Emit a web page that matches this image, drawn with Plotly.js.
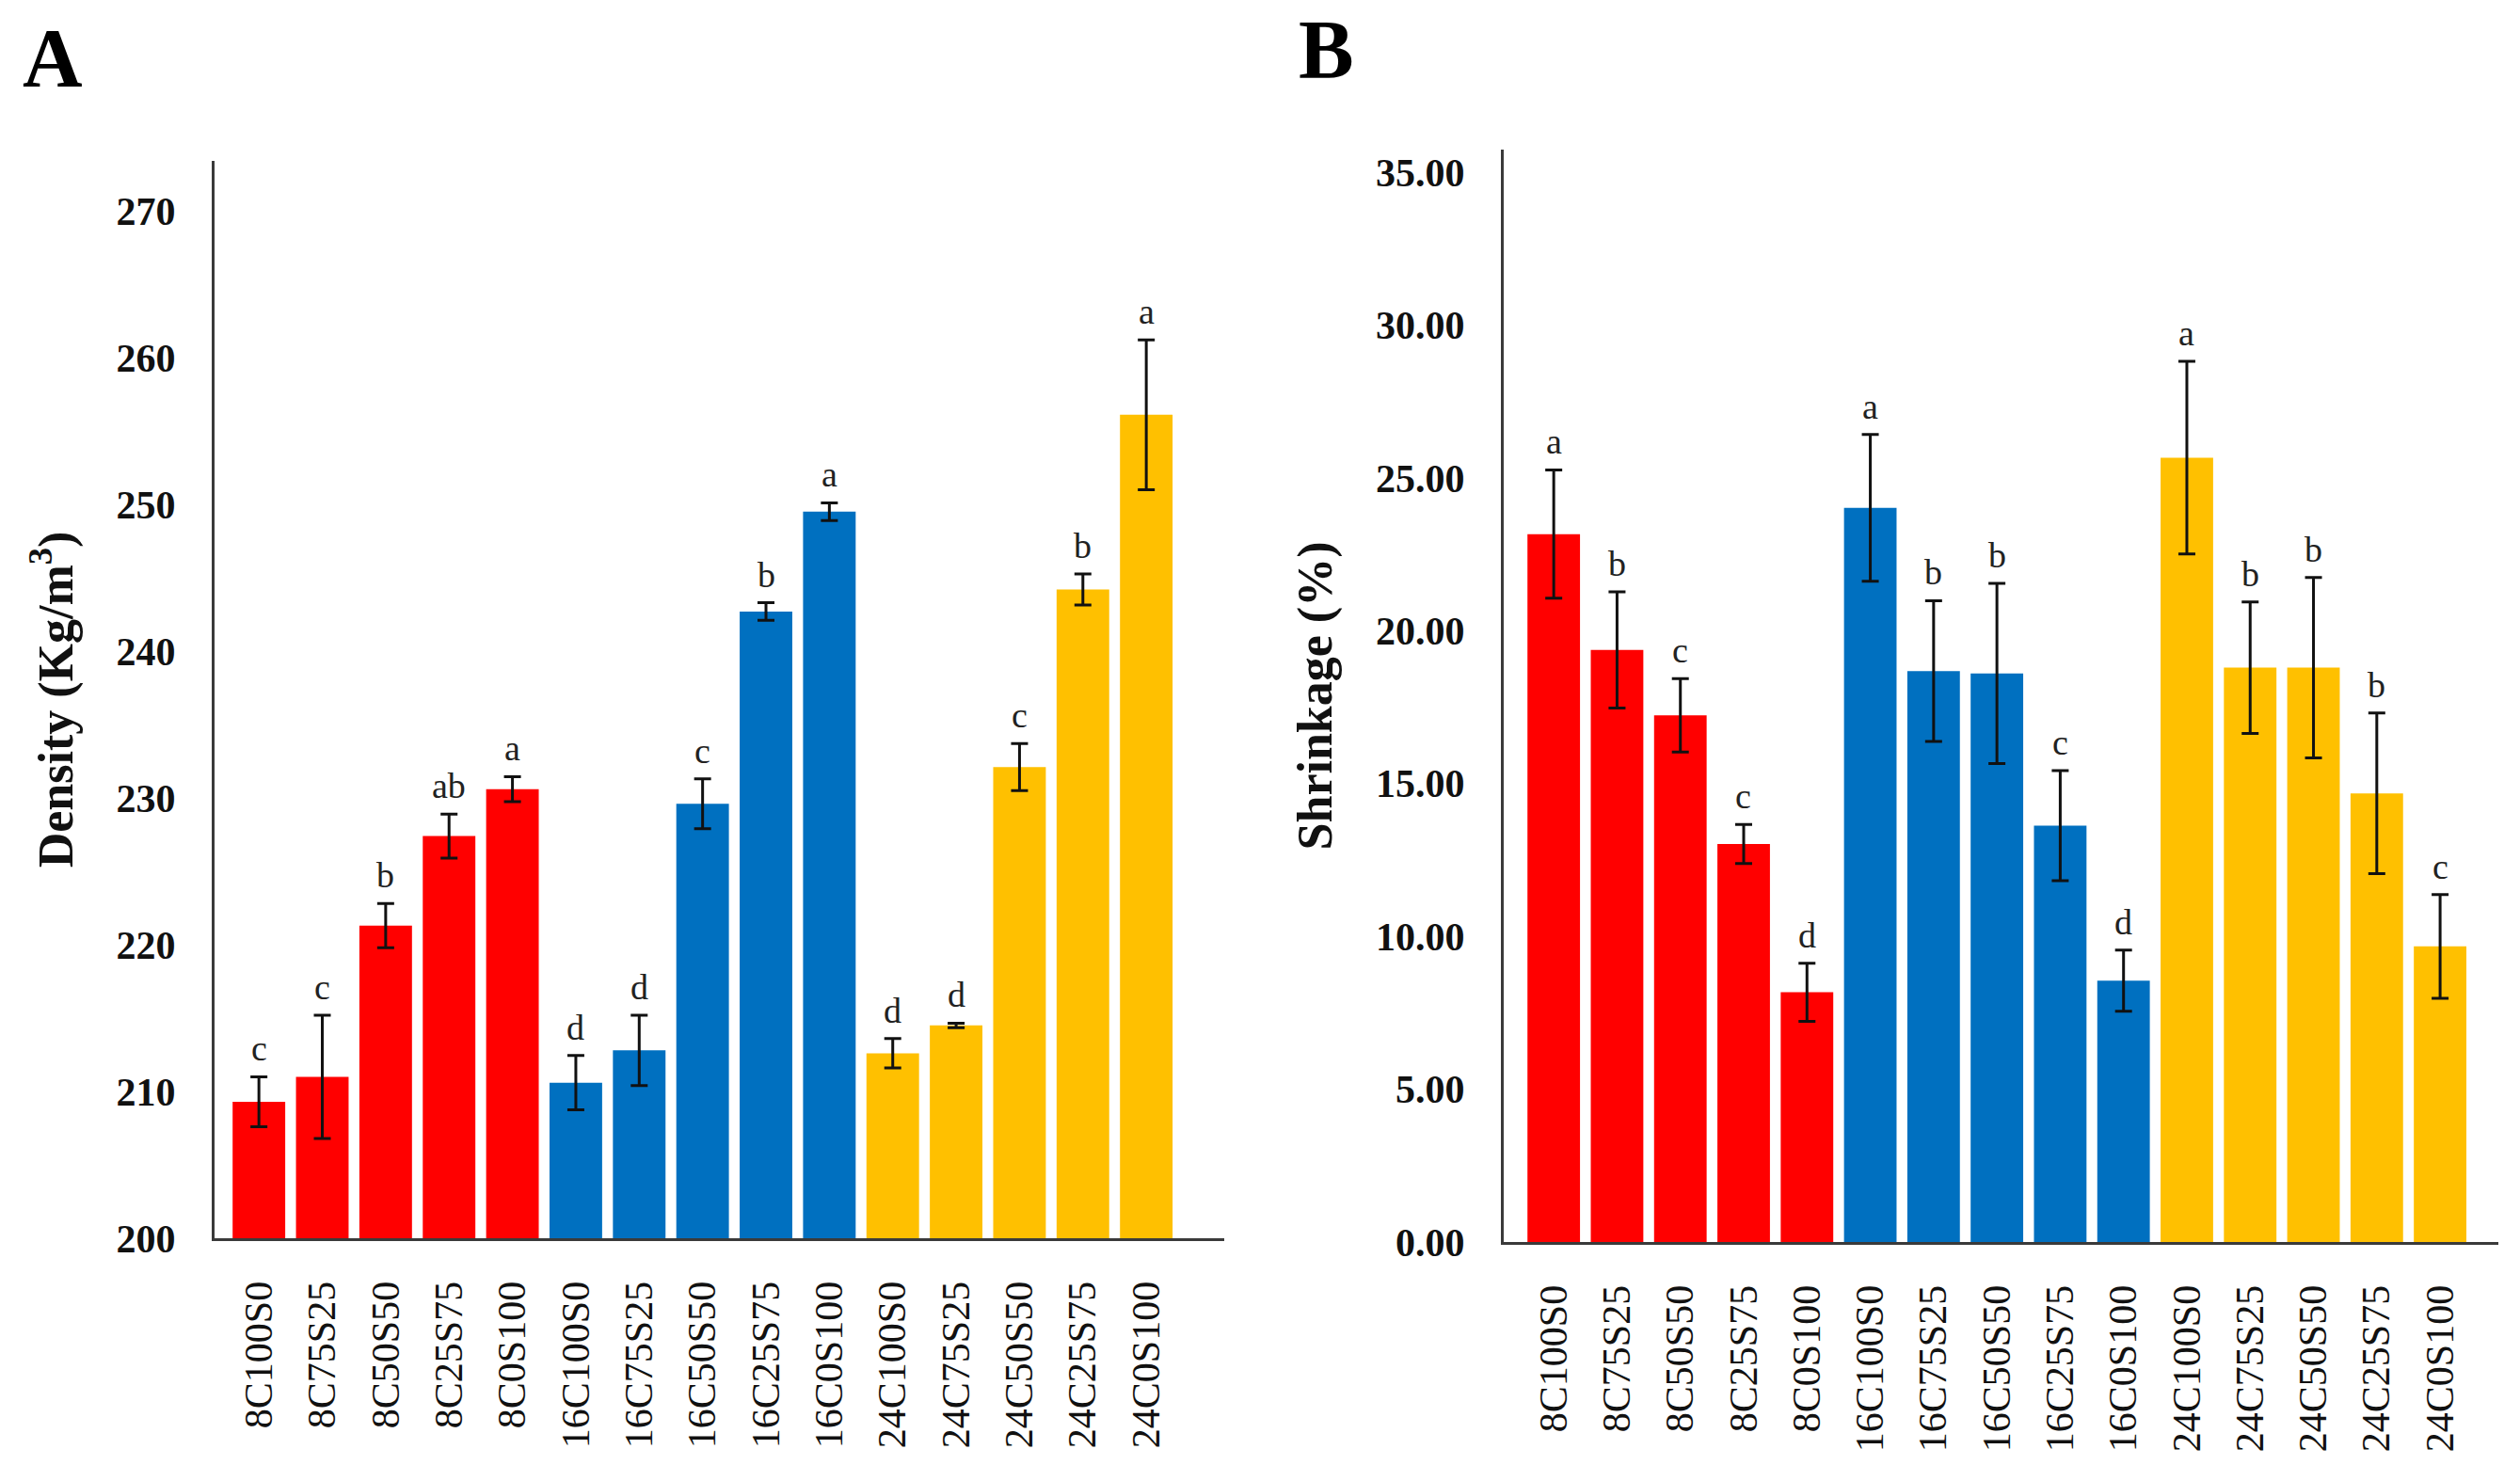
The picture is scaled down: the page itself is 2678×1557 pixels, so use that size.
<!DOCTYPE html>
<html>
<head>
<meta charset="utf-8">
<script src="https://cdn.plot.ly/plotly-3.0.1.min.js"></script>
<style>
  html, body { margin: 0; padding: 0; background: #ffffff; }
  #chart { width: 2678px; height: 1557px; }
</style>
</head>
<body>
<div id="chart"></div>
<script>
// ---------- data ----------
const categories = ['8C100S0','8C75S25','8C50S50','8C25S75','8C0S100',
                    '16C100S0','16C75S25','16C50S50','16C25S75','16C0S100',
                    '24C100S0','24C75S25','24C50S50','24C25S75','24C0S100'];

const density        = [209.3, 211.0, 221.3, 227.4, 230.6, 210.6, 212.8, 229.6, 242.7, 249.5, 212.6, 214.5, 232.1, 244.2, 256.1];
const densityErr     = [1.7, 4.2, 1.5, 1.5, 0.85, 1.85, 2.4, 1.7, 0.6, 0.6, 1.0, 0.15, 1.6, 1.05, 5.1];
const densityLetters = ['c','c','b','ab','a','d','d','c','b','a','d','d','c','b','a'];

const shrinkage      = [23.16, 19.37, 17.23, 13.02, 8.17, 24.02, 18.68, 18.6, 13.62, 8.55, 25.66, 18.79, 18.79, 14.68, 9.67];
const shrinkageErr   = [2.1, 1.9, 1.2, 0.64, 0.95, 2.4, 2.3, 2.95, 1.8, 1.0, 3.15, 2.15, 2.95, 2.63, 1.7];
const shrinkLetters  = ['a','b','c','c','d','a','b','b','c','d','a','b','b','b','c'];

const densityTicks   = [200, 210, 220, 230, 240, 250, 260, 270];
const shrinkTicks    = [0, 5, 10, 15, 20, 25, 30, 35];

// ---------- styles ----------
const palette = { '8C': '#FF0000', '16C': '#0070C0', '24C': '#FFC000' };
const colorOf = c => palette[c.match(/^\d+C/)[0]];
const barColors = categories.map(colorOf);
const SERIF = "'Liberation Serif', 'Times New Roman', serif";

const errStyle = { type: 'data', visible: true, color: '#111111', thickness: 3, width: 9 };

const traces = [
  { type: 'bar', x: categories, y: density, xaxis: 'x', yaxis: 'y',
    marker: { color: barColors, line: { width: 0 } },
    error_y: Object.assign({ array: densityErr }, errStyle),
    hoverinfo: 'x+y', showlegend: false },
  { type: 'bar', x: categories, y: shrinkage, xaxis: 'x2', yaxis: 'y2',
    marker: { color: barColors, line: { width: 0 } },
    error_y: Object.assign({ array: shrinkageErr }, errStyle),
    hoverinfo: 'x+y', showlegend: false }
];

const letterFont = { family: SERIF, size: 38, color: '#222222' };
const annotations = [];
categories.forEach((c, i) => {
  annotations.push({ xref: 'x', yref: 'y', x: c, y: density[i] + densityErr[i],
    text: densityLetters[i], showarrow: false, yshift: 30, font: letterFont });
  annotations.push({ xref: 'x2', yref: 'y2', x: c, y: shrinkage[i] + shrinkageErr[i],
    text: shrinkLetters[i], showarrow: false, yshift: 30, font: letterFont });
});
annotations.push({ xref: 'paper', yref: 'paper', x: 56/2678, y: 1 - 62/1557,
  text: '<b>A</b>', showarrow: false, xanchor: 'center', yanchor: 'middle',
  font: { family: SERIF, size: 88, color: '#000000' } });
annotations.push({ xref: 'paper', yref: 'paper', x: 1409/2678, y: 1 - 52/1557,
  text: '<b>B</b>', showarrow: false, xanchor: 'center', yanchor: 'middle',
  font: { family: SERIF, size: 88, color: '#000000' } });

const xCommon = {
  type: 'category', showgrid: false, zeroline: false,
  showline: true, linecolor: '#3a3a3a', linewidth: 3,
  ticks: 'outside', ticklen: 26, tickcolor: 'rgba(0,0,0,0)',
  tickangle: -90, tickfont: { family: SERIF, size: 42, color: '#111111' },
  fixedrange: true
};
const yCommon = {
  showgrid: false, zeroline: false,
  showline: true, linecolor: '#3a3a3a', linewidth: 3,
  ticks: 'outside', ticklen: 30, tickcolor: 'rgba(0,0,0,0)',
  tickfont: { family: SERIF, size: 42, color: '#111111', weight: 'bold' },
  fixedrange: true
};

const layout = {
  width: 2678, height: 1557,
  margin: { l: 0, r: 0, t: 0, b: 0 },
  paper_bgcolor: '#ffffff', plot_bgcolor: '#ffffff',
  bargap: 0.17,
  xaxis: Object.assign({}, xCommon, {
    domain: [228/2678, 1301/2678], range: [-0.7, 15.23], anchor: 'y'
  }),
  yaxis: Object.assign({}, yCommon, {
    domain: [(1557-1316)/1557, (1557-171)/1557], range: [200, 273.4],
    tickvals: densityTicks, ticktext: densityTicks.map(String), anchor: 'x',
    title: { text: '<b>Density (Kg/m<sup>3</sup>)</b>', standoff: 30,
             font: { family: SERIF, size: 52, color: '#111111' } }
  }),
  xaxis2: Object.assign({}, xCommon, {
    domain: [1598/2678, 2655/2678], range: [-0.79, 14.92], anchor: 'y2'
  }),
  yaxis2: Object.assign({}, yCommon, {
    domain: [(1557-1320)/1557, (1557-159)/1557], range: [0, 35.74],
    tickvals: shrinkTicks, ticktext: shrinkTicks.map(v => v.toFixed(2)), anchor: 'x2',
    title: { text: '<b>Shrinkage (%)</b>', standoff: 30,
             font: { family: SERIF, size: 52, color: '#111111' } }
  }),
  annotations: annotations
};

Plotly.newPlot('chart', traces, layout, { displayModeBar: false, staticPlot: true });
</script>
</body>
</html>
